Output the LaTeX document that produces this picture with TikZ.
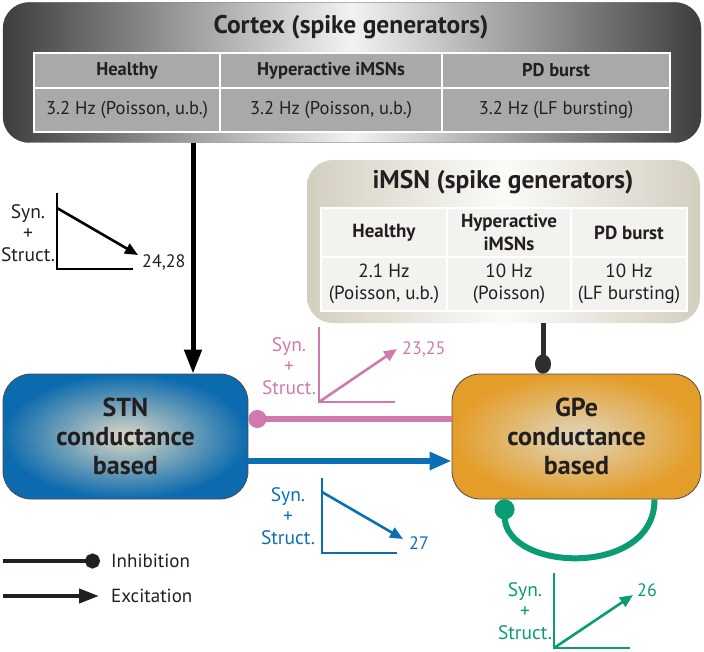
\documentclass[tikz,border=0pt]{standalone}
\usepackage{fontspec}
\setmainfont{PT Sans}
\usetikzlibrary{arrows.meta}
\definecolor{cortexdark}{HTML}{3E3E40}
\definecolor{cortexlight}{HTML}{F2F2F2}
\definecolor{tablegray}{HTML}{A9A9AB}
\definecolor{imsnedge}{HTML}{D3CEC0}
\definecolor{imsnlight}{HTML}{FBFBF8}
\definecolor{imsncell}{HTML}{F3F2EE}
\definecolor{stnblue}{HTML}{0C6BAE}
\definecolor{stncenter}{HTML}{DCD8C4}
\definecolor{gpeorange}{HTML}{E49D28}
\definecolor{gpecenter}{HTML}{DFD6BF}
\definecolor{pinkc}{HTML}{CF7AAC}
\definecolor{bluec}{HTML}{0B6FB4}
\definecolor{greenc}{HTML}{0A9C72}
\definecolor{inkc}{HTML}{231F20}
\definecolor{imsnline}{HTML}{2E2E2E}
\begin{document}
\begin{tikzpicture}[x=1pt,y=-1pt,
  every node/.style={text=inkc},
  bigbox/.style={rounded corners=26pt, inner sep=0pt},
  titletext/.style={font=\fontsize{25.5}{28}\selectfont\bfseries},
  cortexcell/.style={draw=white, line width=1.2pt, fill=tablegray, inner sep=0pt, font=\fontsize{18.5}{21}\selectfont},
  imsncell/.style={draw=white, line width=1.5pt, fill=imsncell, inner sep=0pt, align=center, font=\fontsize{19}{22.5}\selectfont},
  areabox/.style={draw=black!70, line width=0.8pt, rounded corners=28pt, inner sep=0pt, minimum height=125pt,
     align=center, font=\fontsize{26}{29}\selectfont\bfseries},
  chartlab/.style={align=center, inner sep=0pt, font=\fontsize{19.5}{21.5}\selectfont},
  refnum/.style={anchor=west, inner sep=0pt, font=\fontsize{18}{20}\selectfont},
  axisline/.style={line width=2.6pt},
  trend/.style={line width=2.6pt, -{Triangle[length=13pt,width=11pt]}},
  legtext/.style={anchor=west, inner sep=0pt, font=\fontsize{19}{22}\selectfont}
]
\useasboundingbox (0,0) rectangle (704,652);

% ---------- Cortex box ----------
\node[bigbox, draw=cortexdark, left color=cortexdark, right color=cortexdark, middle color=cortexlight,
      minimum width=698pt, minimum height=140pt] (cortex) at (352,72.5) {};
\node[titletext] (cortextitle) at (351,27) {Cortex (spike generators)};
\node[cortexcell, minimum width=186pt, minimum height=35pt] (ch1) at (127,70.5) {\bfseries Healthy};
\node[cortexcell, minimum width=222pt, minimum height=35pt] (ch2) at (331,70.5) {\bfseries Hyperactive iMSNs};
\node[cortexcell, minimum width=228pt, minimum height=35pt] (ch3) at (556,70.5) {\bfseries PD burst};
\node[cortexcell, minimum width=186pt, minimum height=44pt] (cd1) at (127,110) {3.2 Hz (Poisson, u.b.)};
\node[cortexcell, minimum width=222pt, minimum height=44pt] (cd2) at (331,110) {3.2 Hz (Poisson, u.b.)};
\node[cortexcell, minimum width=228pt, minimum height=44pt] (cd3) at (556,110) {3.2 Hz (LF bursting)};

% ---------- iMSN box ----------
\node[bigbox, left color=imsnedge, right color=imsnedge, middle color=imsnlight,
      minimum width=393pt, minimum height=163pt] (imsn) at (503.5,241.5) {};
\node[titletext] (imsntitle) at (503,182) {iMSN (spike generators)};
\node[imsncell, minimum width=126pt, minimum height=49pt] (ih1) at (384,232.5) {\bfseries Healthy};
\node[imsncell, minimum width=124pt, minimum height=49pt] (ih2) at (509,232.5) {\bfseries Hyperactive\\\bfseries iMSNs};
\node[imsncell, minimum width=116pt, minimum height=49pt] (ih3) at (629,232.5) {\bfseries PD burst};
\node[imsncell, minimum width=126pt, minimum height=54pt] (id1) at (384,284) {2.1 Hz\\(Poisson, u.b.)};
\node[imsncell, minimum width=124pt, minimum height=54pt] (id2) at (509,284) {10 Hz\\(Poisson)};
\node[imsncell, minimum width=116pt, minimum height=54pt] (id3) at (629,284) {10 Hz\\(LF bursting)};

% ---------- STN and GPe ----------
\node[areabox, inner color=stncenter, outer color=stnblue, minimum width=245pt] (STN) at (125.5,436.5)
  {STN\\conductance\\based};
\node[areabox, inner color=gpecenter, outer color=gpeorange, minimum width=249pt] (GPe) at (576.5,436.5)
  {GPe\\conductance\\based};

% ---------- connectors ----------
\coordinate (cx) at (193,0);
\draw[line width=5pt, black, -{Triangle[length=24pt,width=17pt]}] (cortex.south -| cx) -- (STN.north -| cx);
\coordinate (ix) at (543,0);
\draw[line width=5pt, imsnline, -{Circle[length=19pt,width=16pt]}] (imsn.south -| ix) -- (GPe.north -| ix);
\draw[line width=6pt, pinkc, -{Circle[length=18pt]}] ([yshift=17.5pt]GPe.west) -- ([yshift=17.5pt]STN.east);
\draw[line width=6pt, bluec, -{Triangle[length=22pt,width=17pt]}] ([yshift=-24.5pt]STN.east) -- ([yshift=-24.5pt]GPe.west);
\draw[line width=6pt, greenc, -{Circle[length=20pt]}] ([xshift=78pt]GPe.south) .. controls (655,578) and (505,572) .. ([xshift=-72pt]GPe.south);

% ---------- black chart ----------
\draw[axisline, black] (57,193) -- (57,269) -- (133,269);
\draw[trend, black] (57,208) -- (138,255);
\node[chartlab] (lab1) at (28,233) {Syn.\\+\\Struct.};
\node[refnum] (num1) at (142,262) {24,28};

% ---------- pink chart ----------
\draw[axisline, pinkc] (319,327) -- (319,402) -- (395,402);
\draw[trend, pinkc] (319,402) -- (397,349);
\node[chartlab, text=pinkc] (lab2) at (289,366) {Syn.\\+\\Struct.};
\node[refnum, text=pinkc] (num2) at (402,349) {23,25};

% ---------- blue chart ----------
\draw[axisline, bluec] (322,478) -- (322,553) -- (397,553);
\draw[trend, bluec] (322,492) -- (403,539);
\node[chartlab, text=bluec] (lab3) at (288,516) {Syn.\\+\\Struct.};
\node[refnum, text=bluec] (num3) at (409,543) {27};

% ---------- green chart ----------
\draw[axisline, greenc] (554,573) -- (554,648) -- (630,648);
\draw[trend, greenc] (554,648) -- (633,595);
\node[chartlab, text=greenc] (lab4) at (525,611) {Syn.\\+\\Struct.};
\node[refnum, text=greenc] (num4) at (637,590) {26};

% ---------- legend ----------
\coordinate (inhA) at (3,561);
\coordinate (inhB) at (100,561);
\draw[line width=4pt, inkc, -{Circle[length=15pt]}] (inhA) -- (inhB);
\node[legtext] (inhT) at (111,561) {Inhibition};
\coordinate (excA) at (3,596);
\coordinate (excB) at (99,596);
\draw[line width=4pt, inkc, -{Triangle[length=20pt,width=14pt]}] (excA) -- (excB);
\node[legtext] (excT) at (111,596) {Excitation};
\end{tikzpicture}
\end{document}
